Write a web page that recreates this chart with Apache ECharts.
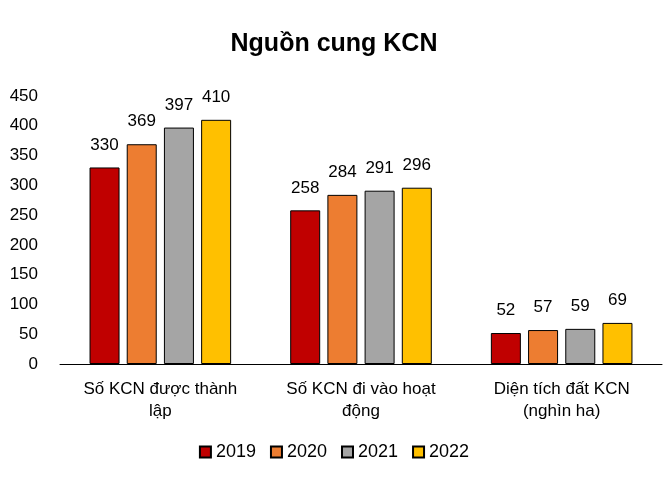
<!DOCTYPE html>
<html><head><meta charset="utf-8">
<script src="https://cdn.jsdelivr.net/npm/echarts@6/dist/echarts.min.js"></script>
<style>html,body{margin:0;padding:0;background:#fff}#c{width:668px;height:496px}</style>
</head><body><div id="c"></div>
<script>
const categories = ["Số KCN được thành\nlập", "Số KCN đi vào hoạt\nđộng", "Diện tích đất KCN\n(nghìn ha)"];
const years = ["2019", "2020", "2021", "2022"];
const v2019 = [330, 258, 52];
const v2020 = [369, 284, 57];
const v2021 = [397, 291, 59];
const v2022 = [410, 296, 69];
const colors = ["#C00000", "#ED7D31", "#A5A5A5", "#FFC000"];
const vals = [v2019, v2020, v2021, v2022];
const font = "Liberation Sans, Arial, sans-serif";
const chart = echarts.init(document.getElementById('c'));
chart.setOption({
  animation: false,
  title: {text: "Nguồn cung KCN", left: "center", top: 27, textStyle: {fontFamily: font, fontSize: 25, fontWeight: "bold", color: "#000"}},
  legend: {bottom: 30, itemWidth: 11, itemHeight: 11, itemGap: 14, icon: "rect", textStyle: {fontFamily: font, fontSize: 18, color: "#000"}, data: years},
  grid: {left: 60, right: 6, top: 96, bottom: 132},
  xAxis: {type: "category", data: categories, axisTick: {show: false},
    axisLine: {lineStyle: {color: "#000"}},
    axisLabel: {fontFamily: font, fontSize: 17, color: "#000", margin: 14, lineHeight: 22}},
  yAxis: {type: "value", min: 0, max: 450, interval: 50, splitLine: {show: false},
    axisLabel: {fontFamily: font, fontSize: 17, color: "#000", margin: 22}},
  series: years.map((y, i) => ({
    name: y, type: "bar", data: vals[i], barWidth: 30, barGap: "24%",
    itemStyle: {color: colors[i], borderColor: "#000", borderWidth: 1},
    label: {show: true, position: "top", distance: 14, fontFamily: font, fontSize: 17, color: "#000"}
  }))
});
</script></body></html>
